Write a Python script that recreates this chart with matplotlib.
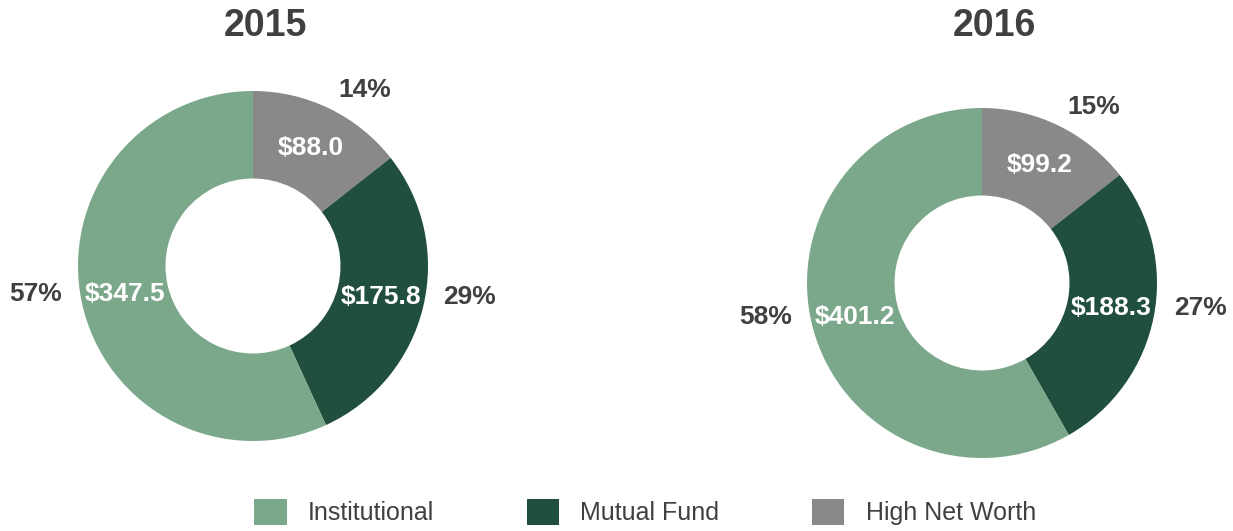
import matplotlib.pyplot as plt
from matplotlib.patches import Patch

plt.rcParams['font.family'] = ['Liberation Sans', 'DejaVu Sans']

# data
years = ['2015', '2016']
categories = ['High Net Worth', 'Mutual Fund', 'Institutional']
values_2015 = [88.0, 175.8, 347.5]
values_2016 = [99.2, 188.3, 401.2]
pct_2015 = ['14%', '29%', '57%']
pct_2016 = ['15%', '27%', '58%']

colors = {'Institutional': '#7BA88A', 'Mutual Fund': '#214F3E', 'High Net Worth': '#898989'}
text_dark = '#404040'

W, H = 1233, 531
fig = plt.figure(figsize=(W / 100, H / 100), dpi=100)

# donut centres / radius in pixels
centres = [(253, 266), (982, 283)]
radius = 175

for year, vals, pcts, (cx, cy) in zip(years, [values_2015, values_2016],
                                      [pct_2015, pct_2016], centres):
    ax = fig.add_axes([(cx - radius) / W, (H - cy - radius) / H,
                       2 * radius / W, 2 * radius / H])
    wedges, labels, autotexts = ax.pie(
        vals, labels=pcts, colors=[colors[c] for c in categories],
        startangle=90, counterclock=False, radius=1,
        labeldistance=1.12, pctdistance=0.75,
        autopct=lambda p, v=vals: '$%.1f' % (p * sum(v) / 100),
        wedgeprops=dict(width=0.5, linewidth=0),
        textprops=dict(fontsize=19, fontweight='bold'))
    for t in autotexts:
        t.set_color('white')
    for t, a in zip(labels, autotexts):
        t.set_color(text_dark)
        x, y = t.get_position()
        # side labels sit level with the value labels
        if abs(y) < 0.5:
            t.set_position((x, a.get_position()[1]))
    ax.set_xlim(-1, 1)
    ax.set_ylim(-1, 1)
    ax.set_aspect('equal')
    ax.axis('off')
    fig.text(cx / W + 0.01, 1 - 26 / H, year, ha='center', va='center',
             fontsize=27, fontweight='bold', color=text_dark)

legend_order = ['Institutional', 'Mutual Fund', 'High Net Worth']
handles = [Patch(facecolor=colors[c], edgecolor='none', label=c) for c in legend_order]
leg = fig.legend(handles=handles, loc='center', ncol=3, frameon=False,
                 bbox_to_anchor=(645 / W, 1 - 512 / H), fontsize=18,
                 handlelength=1.3, handleheight=1.25, handletextpad=0.85,
                 columnspacing=3.7)
for t in leg.get_texts():
    t.set_color(text_dark)

fig.savefig('out.png', dpi=100)
